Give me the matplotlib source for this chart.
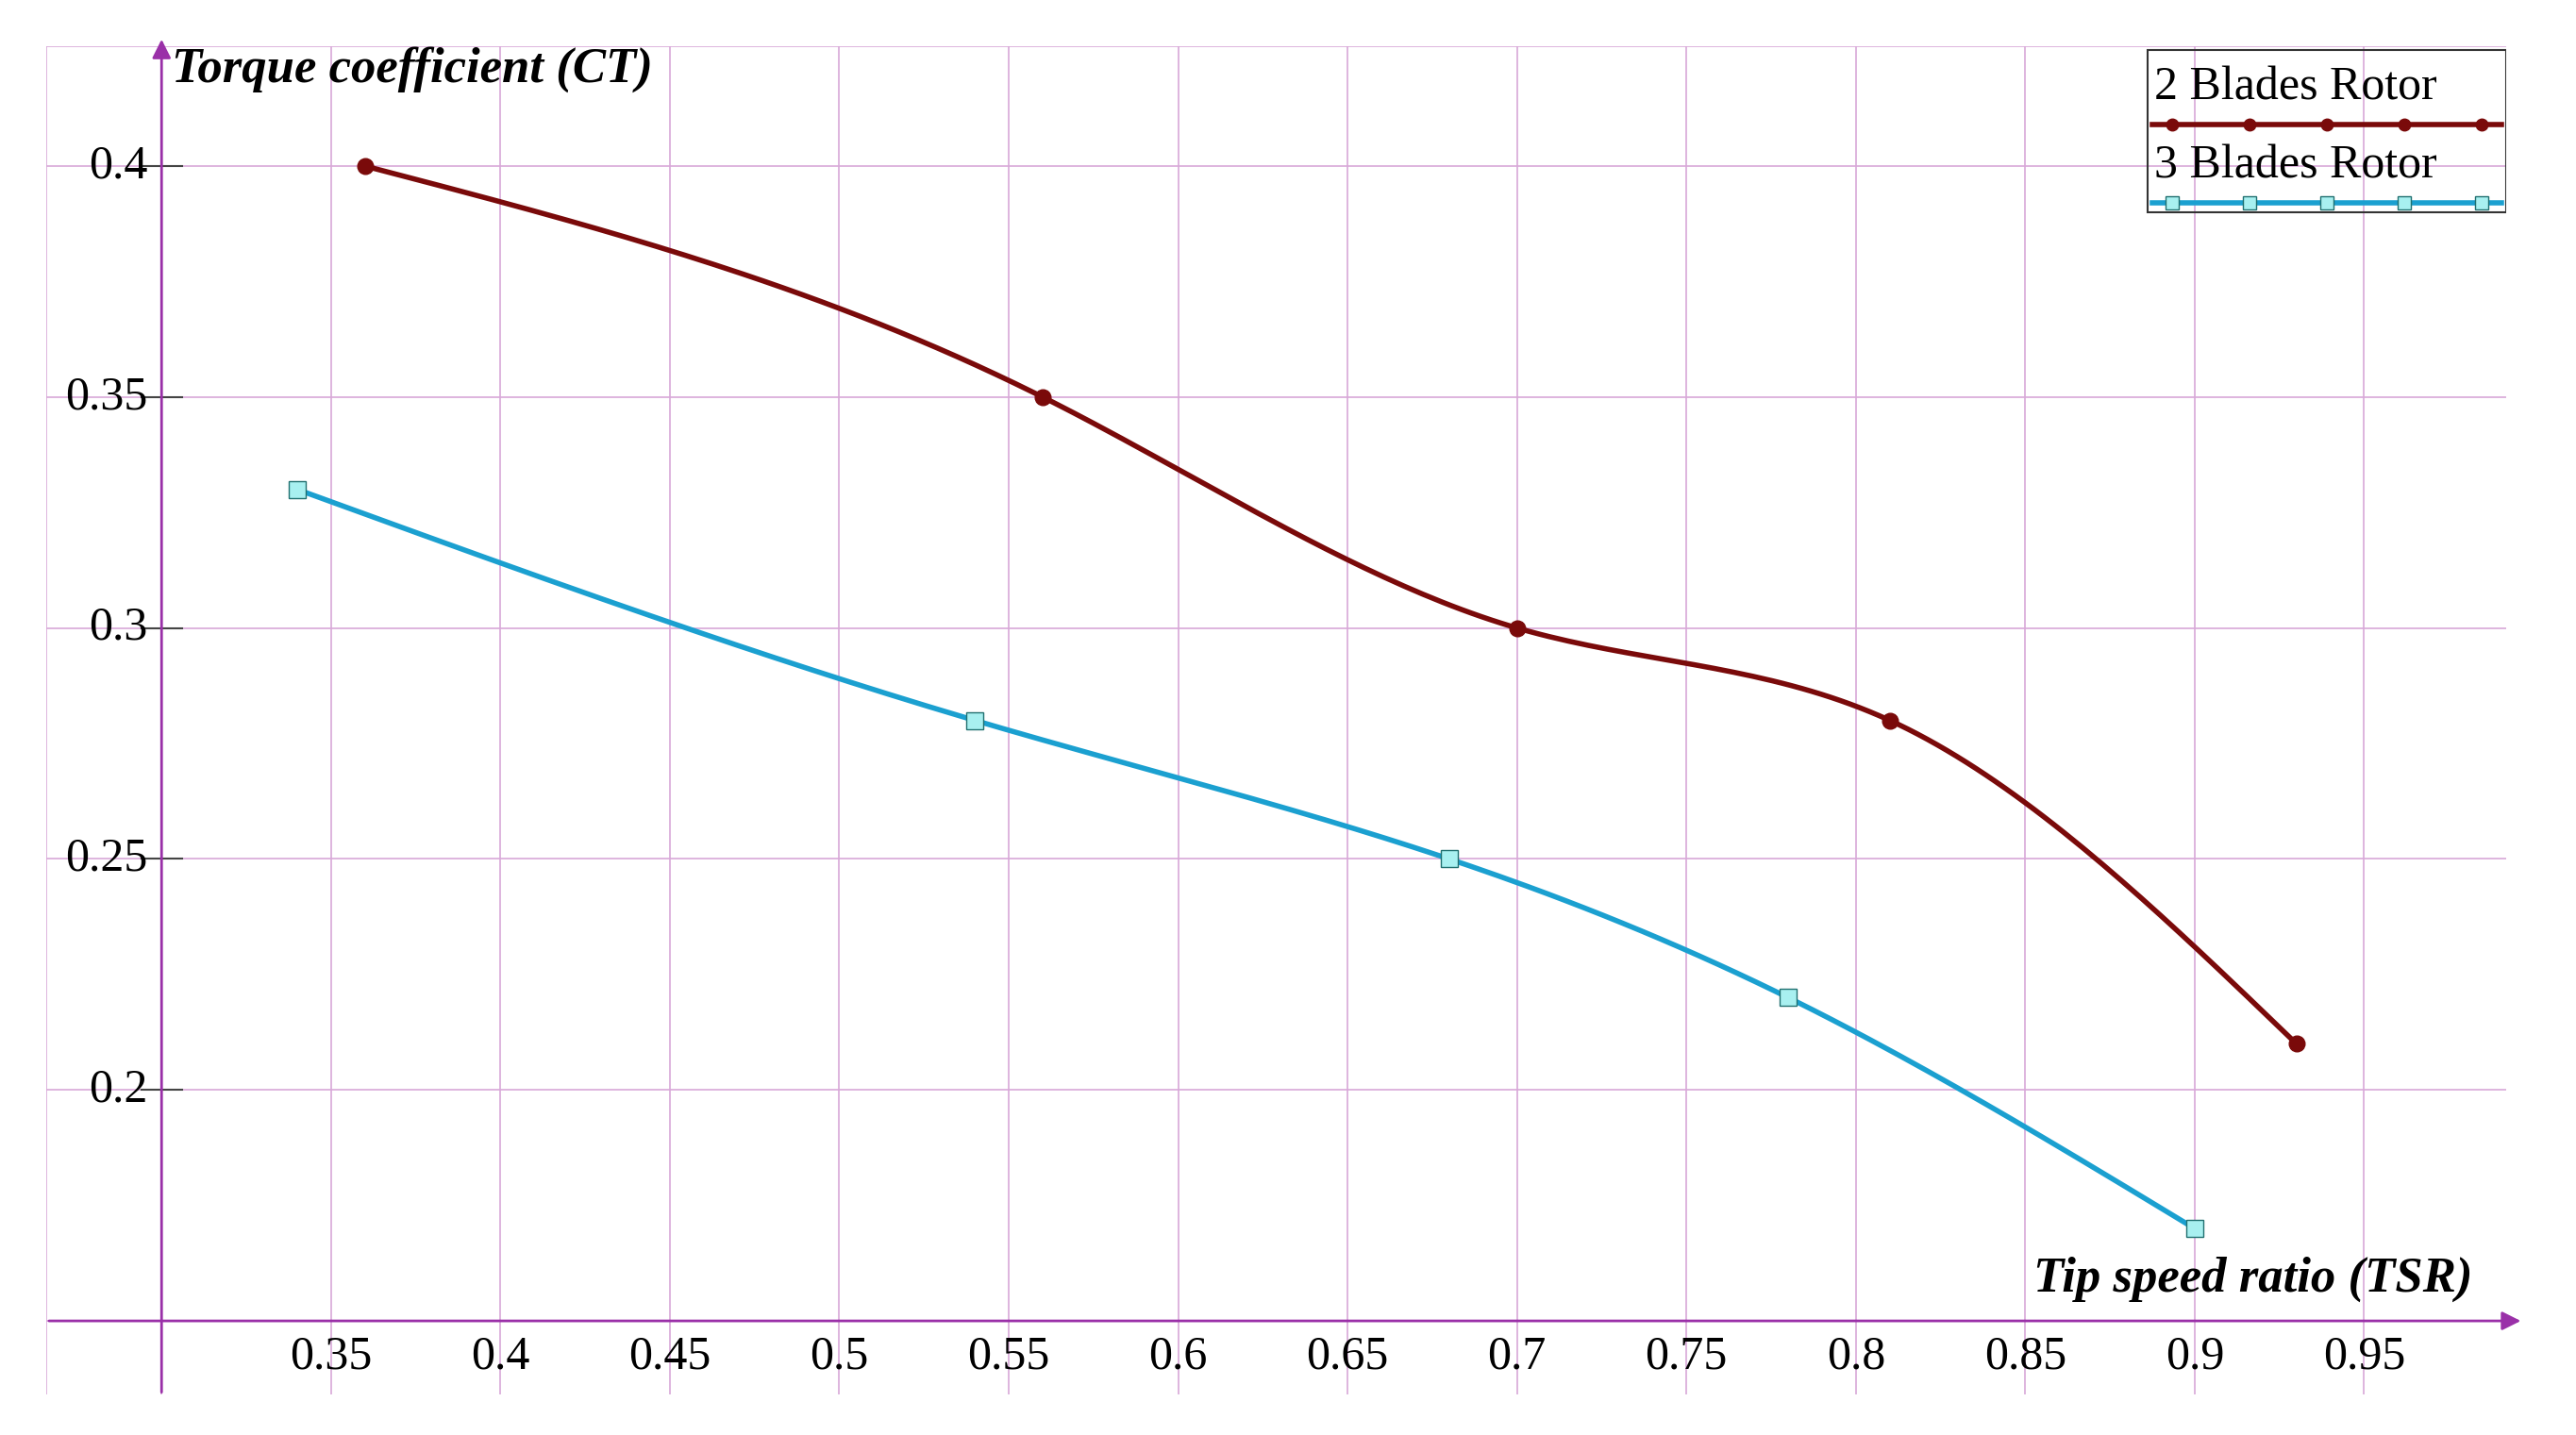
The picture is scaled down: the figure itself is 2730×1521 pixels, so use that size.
import matplotlib.pyplot as plt
import numpy as np

# data
tsr_2 = [0.36, 0.56, 0.70, 0.81, 0.93]
ct_2 = [0.40, 0.35, 0.30, 0.28, 0.21]
tsr_3 = [0.34, 0.54, 0.68, 0.78, 0.90]
ct_3 = [0.33, 0.28, 0.25, 0.22, 0.17]
x_ticks = [0.35, 0.4, 0.45, 0.5, 0.55, 0.6, 0.65, 0.7, 0.75, 0.8, 0.85, 0.9, 0.95]
y_ticks = [0.2, 0.25, 0.3, 0.35, 0.4]

plt.rcParams['font.family'] = ['Liberation Serif', 'DejaVu Serif']
grid_c = '#d8a8d8'
axis_c = '#9a30a8'
red = '#7a0a0a'
blue = '#1ba0d0'


def spline(x, y, n=200):
    # natural cubic spline, just for drawing smooth curves
    x = np.asarray(x, float); y = np.asarray(y, float)
    k = len(x); h = np.diff(x)
    A = np.zeros((k, k)); b = np.zeros(k)
    A[0, 0] = A[-1, -1] = 1
    for i in range(1, k - 1):
        A[i, i - 1] = h[i - 1]; A[i, i] = 2 * (h[i - 1] + h[i]); A[i, i + 1] = h[i]
        b[i] = 6 * ((y[i + 1] - y[i]) / h[i] - (y[i] - y[i - 1]) / h[i - 1])
    M = np.linalg.solve(A, b)
    xs = np.linspace(x[0], x[-1], n)
    idx = np.clip(np.searchsorted(x, xs) - 1, 0, k - 2)
    x0, x1 = x[idx], x[idx + 1]; hh = x1 - x0
    t0, t1 = x1 - xs, xs - x0
    ys = (M[idx] * t0**3 + M[idx + 1] * t1**3) / (6 * hh) \
        + (y[idx] / hh - M[idx] * hh / 6) * t0 + (y[idx + 1] / hh - M[idx + 1] * hh / 6) * t1
    return xs, ys


fig = plt.figure(figsize=(27.3, 15.21), dpi=100)
ax = fig.add_axes([0.018, 0.028, 0.955, 0.94])
ax.set_xlim(0.266, 0.992)
ax.set_ylim(0.134, 0.426)
ax.axis('off')

for xv in [0.3] + x_ticks:
    ax.axvline(xv, color=grid_c, lw=1.2, zorder=0)
for yv in [0.15] + y_ticks:
    ax.axhline(yv, color=grid_c, lw=1.2, zorder=0)
ax.plot([0.266, 0.266, 0.992], [0.134, 0.426, 0.426], color=grid_c, lw=1.2)

# axes with arrows
ax.annotate('', xy=(0.3, 0.428), xytext=(0.3, 0.134), annotation_clip=False,
            arrowprops=dict(arrowstyle='-|>', color=axis_c, lw=2, mutation_scale=30))
ax.annotate('', xy=(0.997, 0.15), xytext=(0.266, 0.15), annotation_clip=False,
            arrowprops=dict(arrowstyle='-|>', color=axis_c, lw=2, mutation_scale=30))

for xv in x_ticks:
    ax.text(xv, 0.147, f'{xv:g}', ha='center', va='top', fontsize=36)
for yv in y_ticks:
    ax.plot([0.294, 0.306], [yv, yv], color='#444444', lw=1.5)
    ax.text(0.296, yv, f'{yv:g}', ha='right', va='center', fontsize=36)

ax.text(0.303, 0.421, 'Torque coefficient (CT)', fontsize=38, style='italic',
        weight='bold', va='center')
ax.text(0.982, 0.159, 'Tip speed ratio (TSR)', fontsize=38, style='italic',
        weight='bold', ha='right', va='center')

xs, ys = spline(tsr_2, ct_2)
ax.plot(xs, ys, color=red, lw=4, zorder=3)
ax.plot(tsr_2, ct_2, 'o', color=red, ms=12, zorder=4)
xs, ys = spline(tsr_3, ct_3)
ax.plot(xs, ys, color=blue, lw=4, zorder=3)
ax.plot(tsr_3, ct_3, 's', mfc='#a8f0f0', mec='#207070', ms=13, zorder=4)

# legend box
T = ax.transAxes
ax.add_patch(plt.Rectangle((0.854, 0.877), 0.146, 0.12, transform=T,
                           fill=False, ec='#333333', lw=1.5))
ax.text(0.857, 0.969, '2 Blades Rotor', transform=T, fontsize=36, va='center')
ax.text(0.857, 0.911, '3 Blades Rotor', transform=T, fontsize=36, va='center')
lx = np.linspace(0.864, 0.990, 5)
ax.plot([0.856, 0.998], [0.942, 0.942], color=red, lw=4, transform=T)
ax.plot(lx, [0.942] * 5, 'o', color=red, ms=9, transform=T)
ax.plot([0.856, 0.998], [0.884, 0.884], color=blue, lw=4, transform=T)
ax.plot(lx, [0.884] * 5, 's', mfc='#a8f0f0', mec='#207070', ms=10, transform=T)

fig.savefig('out.png', dpi=100, facecolor='white')
